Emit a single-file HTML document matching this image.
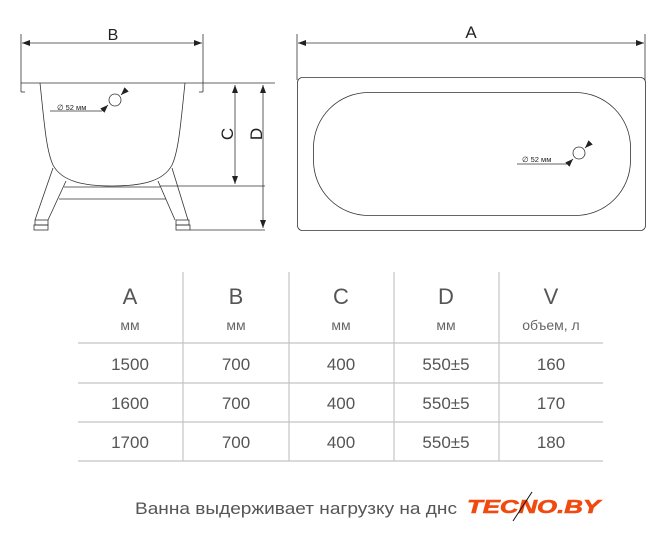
<!DOCTYPE html>
<html><head><meta charset="utf-8"><style>
html,body{margin:0;padding:0;background:#fff;width:667px;height:540px;overflow:hidden}
svg{position:absolute;left:0;top:0}
</style></head><body>
<svg width="667" height="540" viewBox="0 0 667 540" xmlns="http://www.w3.org/2000/svg" font-family="Liberation Sans, DejaVu Sans, sans-serif">
<defs>
<marker id="ar" markerWidth="8" markerHeight="6" refX="8" refY="3" orient="auto-start-reverse" markerUnits="userSpaceOnUse"><path d="M0,0L8,3L0,6z" fill="#222"/></marker>
</defs>
<g stroke="#333" stroke-width="0.8" fill="none">
<line x1="21" y1="34" x2="21" y2="92"/><line x1="21" y1="92" x2="25" y2="92"/>
<line x1="203" y1="34" x2="203" y2="92"/><line x1="203" y1="92" x2="199" y2="92"/>
<line x1="22" y1="43" x2="202" y2="43" marker-start="url(#ar)" marker-end="url(#ar)"/>
<line x1="21" y1="83" x2="275" y2="83"/>
<path d="M40,83 C44,120 46,150 53,165 C62,182 85,186 112,186 C140,186 163,182 172,165 C179,150 181,120 185,83"/>
<line x1="53" y1="168" x2="35" y2="220"/><line x1="66" y1="181" x2="48" y2="220"/>
<line x1="172" y1="168" x2="188" y2="220"/><line x1="158" y1="181" x2="175" y2="220"/>
<line x1="64" y1="187" x2="160" y2="187"/><line x1="59" y1="199" x2="166" y2="199"/>
<rect x="35" y="220" width="13" height="5"/><rect x="34" y="225" width="14" height="5"/>
<rect x="176" y="220" width="13" height="5"/><rect x="176" y="225" width="14" height="5"/>
<line x1="160" y1="186" x2="265" y2="186"/><line x1="190" y1="230" x2="265" y2="230"/>
<line x1="235" y1="85" x2="235" y2="184" marker-start="url(#ar)" marker-end="url(#ar)"/>
<line x1="263" y1="85" x2="263" y2="228" marker-start="url(#ar)" marker-end="url(#ar)"/>
<circle cx="115" cy="100" r="6"/>
<line x1="50" y1="111" x2="102" y2="111"/><line x1="102" y1="111" x2="108" y2="105" marker-end="url(#ar)"/>
<line x1="126" y1="90" x2="121" y2="95" marker-end="url(#ar)"/>
<line x1="297" y1="34" x2="297" y2="80"/><line x1="645" y1="34" x2="645" y2="80"/>
<line x1="298" y1="43" x2="644" y2="43" marker-start="url(#ar)" marker-end="url(#ar)"/>
<rect x="297.5" y="77.5" width="348" height="153" rx="5"/>
<rect x="313.5" y="92.5" width="317" height="123" rx="55"/>
<circle cx="579" cy="153" r="6"/>
<line x1="517" y1="164" x2="568" y2="164"/><line x1="568" y1="164" x2="573" y2="159" marker-end="url(#ar)"/>
<line x1="590" y1="143" x2="585" y2="148" marker-end="url(#ar)"/>
</g>
<g fill="#222">
<text x="113" y="40" font-size="16" text-anchor="middle">B</text>
<text x="471" y="38" font-size="17" text-anchor="middle">A</text>
<text x="57" y="110" font-size="7.5">∅ 52 мм</text>
<text x="522" y="162" font-size="7.5">∅ 52 мм</text>
<text transform="translate(233,134) rotate(-90)" font-size="17" text-anchor="middle">C</text>
<text transform="translate(262,134) rotate(-90)" font-size="17" text-anchor="middle">D</text>
</g>
<g stroke="#c4c4c4" stroke-width="1.2">
<line x1="78" y1="343" x2="603" y2="343"/><line x1="78" y1="383" x2="603" y2="383"/>
<line x1="78" y1="422" x2="603" y2="422"/><line x1="78" y1="461" x2="603" y2="461"/>
<line x1="183" y1="272" x2="183" y2="461"/><line x1="289" y1="272" x2="289" y2="461"/>
<line x1="394" y1="272" x2="394" y2="461"/><line x1="499" y1="272" x2="499" y2="461"/>
</g>
<g fill="#555" text-anchor="middle">
<g font-size="22"><text x="130" y="304">A</text><text x="236" y="304">B</text><text x="341" y="304">C</text><text x="446" y="304">D</text><text x="551" y="304">V</text></g>
<g font-size="14" fill="#666"><text x="130" y="330">мм</text><text x="236" y="330">мм</text><text x="341" y="330">мм</text><text x="446" y="330">мм</text><text x="551" y="330">объем, л</text></g>
<g font-size="17">
<text x="130" y="370">1500</text><text x="236" y="370">700</text><text x="341" y="370">400</text><text x="446" y="370">550±5</text><text x="551" y="370">160</text>
<text x="130" y="409">1600</text><text x="236" y="409">700</text><text x="341" y="409">400</text><text x="446" y="409">550±5</text><text x="551" y="409">170</text>
<text x="130" y="448">1700</text><text x="236" y="448">700</text><text x="341" y="448">400</text><text x="446" y="448">550±5</text><text x="551" y="448">180</text>
</g>
</g>
<text x="135" y="514" font-size="16.5" fill="#555" textLength="322" lengthAdjust="spacingAndGlyphs">Ванна выдерживает нагрузку на днс</text>
<text x="467" y="513" font-size="18" font-weight="bold" font-style="italic" fill="#f04a10" stroke="#f04a10" stroke-width="0.6" textLength="133" lengthAdjust="spacingAndGlyphs">TECNO.BY</text>
<line x1="513" y1="521" x2="532" y2="492" stroke="#111" stroke-width="1"/>
</svg>
</body></html>
